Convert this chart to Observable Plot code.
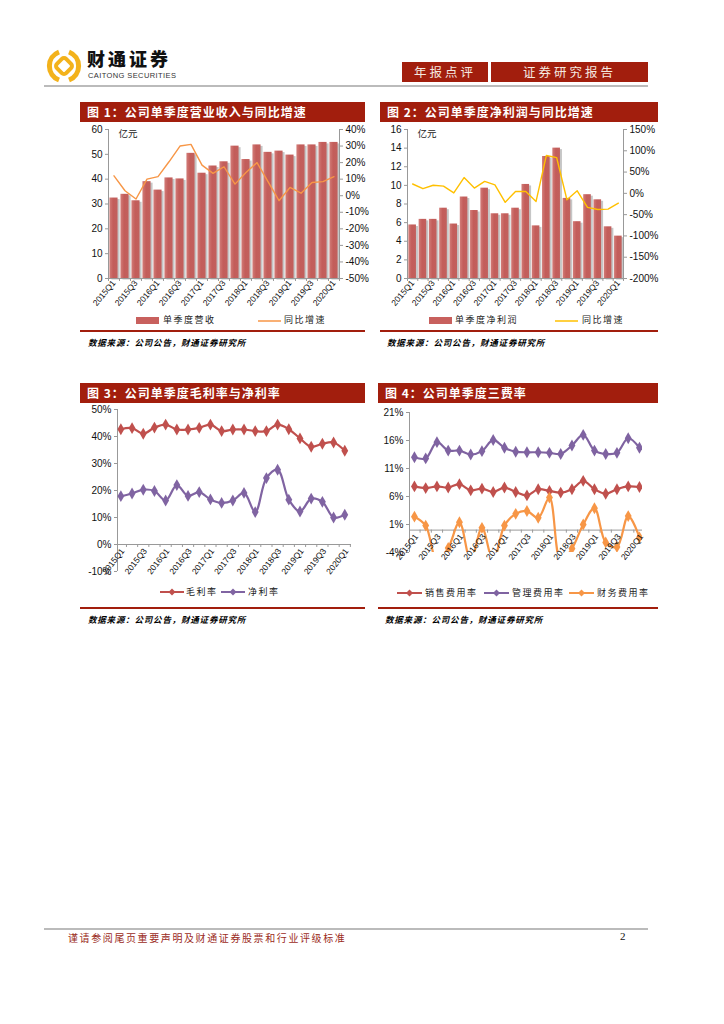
<!DOCTYPE html>
<html><head><meta charset="utf-8">
<script src="https://cdn.jsdelivr.net/npm/d3@7"></script>
<script src="https://cdn.jsdelivr.net/npm/@observablehq/plot@0.6"></script>
<style>
body{margin:0;background:#fff;}
#page{position:relative;width:724px;height:1024px;overflow:hidden;font-family:"Noto Sans CJK SC",sans-serif;background:#fff;}
.tbar{position:absolute;height:20px;background:#A21E0D;color:#fff;font-weight:bold;font-size:12px;line-height:20px;padding-left:7px;letter-spacing:1px;box-sizing:border-box;white-space:nowrap;}
.src{position:absolute;font-size:8.5px;font-weight:bold;font-style:italic;color:#000;letter-spacing:0.8px;white-space:nowrap;line-height:12px;}
.leg{position:absolute;font-size:9px;color:#222;white-space:nowrap;letter-spacing:1.5px;line-height:12px;}
.chart{position:absolute;}
.redline{position:absolute;height:1.5px;background:#A21E0D;}
.hbox{position:absolute;top:62px;height:20px;background:#A21E0D;color:#f5e9e0;font-size:12.5px;line-height:20px;text-align:center;letter-spacing:3px;}
svg.sw{position:absolute;overflow:visible;}
</style></head>
<body>
<svg width="0" height="0" style="position:absolute">
  <defs>
    <linearGradient id="barGrad" x1="0" y1="0" x2="1" y2="0">
      <stop offset="0" stop-color="#D27C78"/>
      <stop offset="0.45" stop-color="#C35D5A"/>
      <stop offset="1" stop-color="#C2605D"/>
    </linearGradient>
  </defs>
</svg>
<div id="page">
  <!-- header -->
  <svg class="sw" style="left:46px;top:48px" width="36" height="36" viewBox="0 0 36 36">
    <path d="M13 4 A15 15 0 0 0 13 32" fill="none" stroke="#F3B21B" stroke-width="5"/>
    <path d="M23 4 A15 15 0 0 1 23 32" fill="none" stroke="#F3B21B" stroke-width="5"/>
    <rect x="11.5" y="11.5" width="13" height="13" rx="3" transform="rotate(45 18 18)" fill="none" stroke="#F3B21B" stroke-width="4"/>
  </svg>
  <div style="position:absolute;left:87px;top:48px;font-size:18px;font-weight:900;letter-spacing:3px;color:#111;line-height:20px;">财通证券</div>
  <div style="position:absolute;left:88px;top:71px;font-family:'Liberation Sans',Arial,sans-serif;font-size:7.5px;letter-spacing:0.4px;color:#333;line-height:9px;">CAITONG SECURITIES</div>
  <div class="hbox" style="left:402px;width:86px;">年报点评</div>
  <div class="hbox" style="left:491px;width:157px;">证券研究报告</div>
  <div style="position:absolute;left:44px;top:85px;width:604px;height:1.5px;background:#bbb;"></div>

  <!-- titles -->
  <div class="tbar" style="left:80px;top:102px;width:285px;">图 1：公司单季度营业收入与同比增速</div>
  <div class="tbar" style="left:380px;top:102px;width:278px;">图 2：公司单季度净利润与同比增速</div>
  <div class="tbar" style="left:80px;top:383px;width:285px;">图 3：公司单季度毛利率与净利率</div>
  <div class="tbar" style="left:378px;top:383px;width:280px;">图 4：公司单季度三费率</div>

  <div class="chart" id="c1" style="left:75px;top:122px;"></div>
  <div class="chart" id="c2" style="left:375px;top:122px;"></div>
  <div class="chart" id="c3" style="left:75px;top:403px;"></div>
  <div class="chart" id="c4" style="left:375px;top:403px;"></div>

  <!-- legends -->
  <svg class="sw" style="left:136px;top:317px" width="23" height="7"><rect width="23" height="7" fill="#C8605D"/></svg>
  <div class="leg" style="left:163px;top:314px;">单季度营收</div>
  <svg class="sw" style="left:258px;top:320px" width="23" height="2"><line x1="0" y1="1" x2="23" y2="1" stroke="#F79646" stroke-width="1.5"/></svg>
  <div class="leg" style="left:284px;top:314px;">同比增速</div>

  <svg class="sw" style="left:429px;top:317px" width="23" height="7"><rect width="23" height="7" fill="#C8605D"/></svg>
  <div class="leg" style="left:455px;top:314px;">单季度净利润</div>
  <svg class="sw" style="left:555px;top:320px" width="23" height="2"><line x1="0" y1="1" x2="23" y2="1" stroke="#FFC000" stroke-width="1.5"/></svg>
  <div class="leg" style="left:582px;top:314px;">同比增速</div>

  <svg class="sw" style="left:160px;top:588px" width="24" height="8"><line x1="0" y1="4" x2="24" y2="4" stroke="#C0504D" stroke-width="2"/><path d="M12 0.5 L15.5 4 L12 7.5 L8.5 4Z" fill="#C0504D"/></svg>
  <div class="leg" style="left:186px;top:586px;">毛利率</div>
  <svg class="sw" style="left:221px;top:588px" width="24" height="8"><line x1="0" y1="4" x2="24" y2="4" stroke="#8064A2" stroke-width="2"/><path d="M12 0.5 L15.5 4 L12 7.5 L8.5 4Z" fill="#8064A2"/></svg>
  <div class="leg" style="left:248px;top:586px;">净利率</div>

  <svg class="sw" style="left:397px;top:589px" width="25" height="8"><line x1="0" y1="4" x2="25" y2="4" stroke="#C0504D" stroke-width="2"/><path d="M12.5 0.5 L16 4 L12.5 7.5 L9 4Z" fill="#C0504D"/></svg>
  <div class="leg" style="left:425px;top:587px;">销售费用率</div>
  <svg class="sw" style="left:484px;top:589px" width="25" height="8"><line x1="0" y1="4" x2="25" y2="4" stroke="#7F63A1" stroke-width="2"/><path d="M12.5 0.5 L16 4 L12.5 7.5 L9 4Z" fill="#7F63A1"/></svg>
  <div class="leg" style="left:512px;top:587px;">管理费用率</div>
  <svg class="sw" style="left:569px;top:589px" width="25" height="8"><line x1="0" y1="4" x2="25" y2="4" stroke="#F79646" stroke-width="2"/><path d="M12.5 0.5 L16 4 L12.5 7.5 L9 4Z" fill="#F79646"/></svg>
  <div class="leg" style="left:597px;top:587px;">财务费用率</div>

  <div class="redline" style="left:80px;top:330px;width:285px;"></div>
  <div class="redline" style="left:380px;top:330px;width:278px;"></div>
  <div class="redline" style="left:80px;top:607px;width:285px;"></div>
  <div class="redline" style="left:378px;top:607px;width:280px;"></div>

  <div class="src" style="left:88px;top:336px;">数据来源：公司公告，财通证券研究所</div>
  <div class="src" style="left:387px;top:336px;">数据来源：公司公告，财通证券研究所</div>
  <div class="src" style="left:88px;top:613px;">数据来源：公司公告，财通证券研究所</div>
  <div class="src" style="left:385px;top:613px;">数据来源：公司公告，财通证券研究所</div>

  <!-- footer -->
  <div style="position:absolute;left:44px;top:928px;width:604px;height:1.5px;background:#bbb;"></div>
  <div style="position:absolute;left:68px;top:931px;font-size:10px;color:#9B2B1B;letter-spacing:1.6px;line-height:13px;white-space:nowrap;">谨请参阅尾页重要声明及财通证券股票和行业评级标准</div>
  <div style="position:absolute;left:620px;top:930px;font-family:'Liberation Serif',serif;font-size:11px;color:#111;line-height:13px;">2</div>
</div>
<script>
const quarters = ["2015Q1","2015Q2","2015Q3","2015Q4","2016Q1","2016Q2","2016Q3","2016Q4","2017Q1","2017Q2","2017Q3","2017Q4","2018Q1","2018Q2","2018Q3","2018Q4","2019Q1","2019Q2","2019Q3","2019Q4","2020Q1"];
// Fig 1: revenue (亿元) and YoY (%)
const revenue = [32.4, 33.9, 31.3, 39.0, 35.6, 40.5, 40.1, 50.4, 42.4, 45.3, 47.0, 53.3, 47.9, 53.8, 50.8, 51.3, 49.7, 53.8, 53.8, 54.8, 54.8];
const revenueYoY = [12, 3, -2, 10, 11.5, 20.5, 30, 31, 18.5, 13.5, 17.5, 7, 14, 20, 8.5, -3, 5, 1.5, 8, 8.5, 11.5];
const revTicks = [0, 10, 20, 30, 40, 50, 60];
const revYoYTicks = [-50, -40, -30, -20, -10, 0, 10, 20, 30, 40];
// Fig 2: net profit (亿元) and YoY (%)
const profit = [5.75, 6.35, 6.35, 7.55, 5.85, 8.75, 7.3, 9.7, 6.95, 6.95, 7.55, 10.1, 5.65, 13.1, 14.0, 8.6, 6.1, 9.0, 8.45, 5.55, 4.55];
const profitYoY = [22, 11, 19, 17, 1, 37, 12.5, 28, 20, -21, 4.5, 4.5, -19, 89, 84, -15, 6, -33, -38, -37, -23];
const profitTicks = [0, 2, 4, 6, 8, 10, 12, 14, 16];
const profitYoYTicks = [-200, -150, -100, -50, 0, 50, 100, 150];
// Fig 3: margins (%)
const grossMargin = [42.7, 43.1, 41.0, 43.3, 44.4, 42.6, 42.6, 43.2, 44.4, 42.0, 42.6, 42.6, 42.0, 42.0, 44.4, 42.7, 39.3, 36.2, 37.3, 37.8, 34.7];
const netMargin = [17.9, 18.9, 20.3, 19.8, 16.3, 22.0, 18.0, 19.4, 16.7, 15.4, 16.3, 19.1, 12.0, 24.6, 27.7, 16.6, 12.2, 17.0, 15.8, 10.0, 11.0];
const marginTicks = [-10, 0, 10, 20, 30, 40, 50];
// Fig 4: expense ratios (%)
const salesRate = [7.8, 7.5, 7.8, 7.6, 8.2, 7.1, 7.4, 6.8, 7.6, 6.8, 6.2, 7.3, 7.0, 6.7, 7.3, 8.8, 7.3, 6.5, 7.3, 7.8, 7.7];
const adminRate = [13.0, 12.8, 15.7, 14.2, 14.2, 13.5, 14.1, 16.1, 14.7, 14.0, 13.9, 13.9, 13.8, 13.6, 15.1, 17.0, 14.2, 13.6, 13.8, 16.4, 14.7];
const finRate = [2.4, 0.8, -5.5, -3.2, 1.4, -5.5, 0.4, -5.5, 0.8, 2.9, 3.4, 2.2, 5.8, -5.5, -3.3, 1.0, 3.9, -2.2, -3.0, 2.5, -1.3];
const feeTicks = [-4, 1, 6, 11, 16, 21];

const n = quarters.length;
const baseStyle = {fontFamily: "'Liberation Sans', Arial, sans-serif", fontSize: "10px", background: "transparent", overflow: "visible", color: "#111"};

function barLineChart(cfg) {
  const data = quarters.map((q, i) => ({i, v: cfg.bars[i], g: cfg.yoy[i]}));
  const toL = g => (g - cfg.rMin) / (cfg.rMax - cfg.rMin) * cfg.yMax;
  const fromL = v => Math.round(v / cfg.yMax * (cfg.rMax - cfg.rMin) + cfg.rMin);
  const hw = 0.37;
  return Plot.plot({
    width: cfg.width, height: cfg.height,
    marginLeft: cfg.ml, marginRight: cfg.mr, marginTop: cfg.mt, marginBottom: cfg.mb,
    style: baseStyle,
    x: {domain: [-0.5, n - 0.5], label: null},
    y: {domain: [0, cfg.yMax], label: null},
    marks: [
      Plot.rectY(data, {x1: d => d.i - hw, x2: d => d.i + hw, y: "v", fill: "#c6c6c6", dx: 2, dy: 1.5}),
      Plot.rectY(data, {x1: d => d.i - hw, x2: d => d.i + hw, y: "v", fill: "url(#barGrad)"}),
      Plot.line(data, {x: "i", y: d => toL(d.g), stroke: cfg.lineColor, strokeWidth: 1.4}),
      Plot.ruleX([-0.5, n - 0.5], {stroke: "#999"}),
      Plot.ruleY([0], {stroke: "#999"}),
      Plot.ruleX(d3.range(-0.5, n, 1), {y1: 0, y2: -cfg.yMax * 0.02, stroke: "#999"}),
      Plot.axisY(cfg.yTicks, {anchor: "left", label: null, tickSize: 3, tickPadding: 3, color: "#111", stroke: "#999", fontSize: 10}),
      Plot.axisY(cfg.rTicks.map(toL), {anchor: "right", label: null, tickSize: 3, tickPadding: 3, color: "#111", stroke: "#999", fontSize: 10, tickFormat: v => fromL(v) + "%"}),
      Plot.axisX(d3.range(0, n, 2), {label: null, tickFormat: i => quarters[i], tickRotate: -50, tickSize: 0, tickPadding: 3, fontSize: 8.5, color: "#111"}),
      Plot.text(["亿元"], {frameAnchor: "top-left", dx: 10, dy: 1, fontFamily: "'Noto Sans CJK SC'", fontSize: 9.5, textAnchor: "start", fill: "#222"})
    ]
  });
}

function lineChart(cfg) {
  const marks = [
    Plot.ruleX([cfg.xDomain[0]], {stroke: "#999"}),
    Plot.ruleY([0], {stroke: "#999"}),
    Plot.ruleX(d3.range(-0.5, n, 1).filter(v => v >= cfg.xDomain[0] && v <= cfg.xDomain[1]), {y1: 0, y2: -cfg.tickLen, stroke: "#999"}),
    Plot.axisY(cfg.ticks, {anchor: "left", label: null, tickSize: 3, tickPadding: 3, color: "#111", stroke: "#999", fontSize: 10, tickFormat: d => d + "%"})
  ];
  for (const s of cfg.series) {
    const rows = s.values.map((v, i) => ({i, v}));
    marks.push(Plot.line(rows, {x: "i", y: "v", stroke: s.color, strokeWidth: 2.2, curve: "catmull-rom", clip: true}));
    marks.push(Plot.dot(rows, {x: "i", y: "v", symbol: "diamond", r: 3.6, fill: s.color, stroke: "none", clip: true}));
  }
  marks.push(Plot.text(d3.range(0, n, 2), {x: d => d, y: 0, text: d => quarters[d], rotate: -52, textAnchor: "end", dy: 5, dx: 2, fontSize: 8.5, fill: "#111"}));
  return Plot.plot({
    width: cfg.width, height: cfg.height,
    marginLeft: cfg.ml, marginRight: cfg.mr, marginTop: cfg.mt, marginBottom: cfg.mb,
    style: baseStyle,
    x: {domain: cfg.xDomain, axis: null, label: null},
    y: {domain: cfg.yDomain, axis: null, label: null},
    marks
  });
}

document.getElementById("c1").append(barLineChart({
  width: 295, height: 200, ml: 33, mr: 31, mt: 7, mb: 44,
  bars: revenue, yoy: revenueYoY, yMax: 60, rMin: -50, rMax: 40,
  yTicks: revTicks, rTicks: revYoYTicks, lineColor: "#F79646"
}));
document.getElementById("c2").append(barLineChart({
  width: 290, height: 200, ml: 32, mr: 42, mt: 7, mb: 44,
  bars: profit, yoy: profitYoY, yMax: 16, rMin: -200, rMax: 150,
  yTicks: profitTicks, rTicks: profitYoYTicks, lineColor: "#FFC000"
}));
document.getElementById("c3").append(lineChart({
  width: 290, height: 188, ml: 42, mr: 14, mt: 6, mb: 20,
  xDomain: [-0.3, 20.6], yDomain: [-10, 50], ticks: marginTicks, tickLen: 1.1,
  series: [{values: grossMargin, color: "#C0504D"}, {values: netMargin, color: "#8064A2"}]
}));
document.getElementById("c4").append(lineChart({
  width: 290, height: 185, ml: 34, mr: 23, mt: 9, mb: 36,
  xDomain: [-0.44, 20.27], yDomain: [-4, 21], ticks: feeTicks, tickLen: 0.55,
  series: [{values: salesRate, color: "#C0504D"}, {values: adminRate, color: "#7F63A1"}, {values: finRate, color: "#F79646"}]
}));
</script>
</body></html>
